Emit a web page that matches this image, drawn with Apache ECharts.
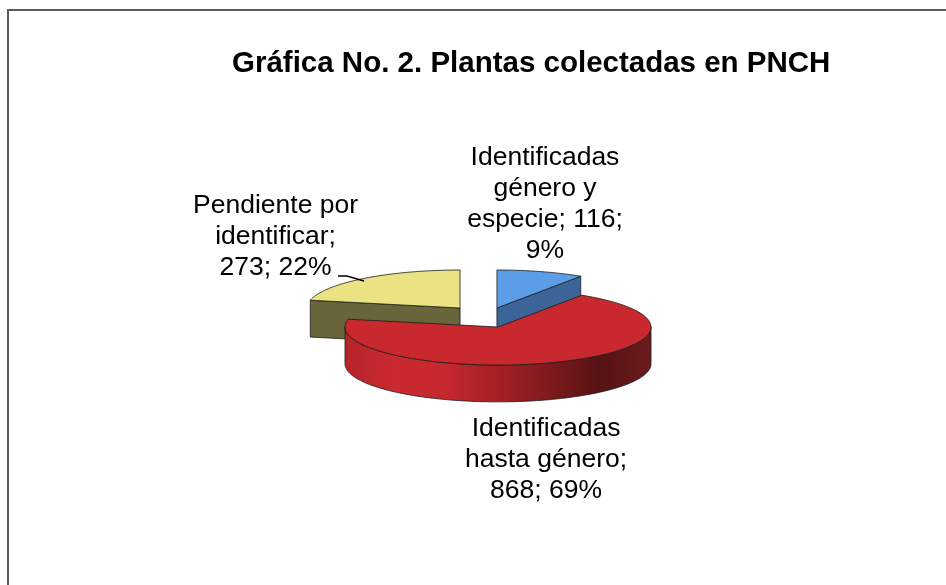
<!DOCTYPE html>
<html>
<head>
<meta charset="utf-8">
<script src="https://cdn.jsdelivr.net/npm/echarts@6/dist/echarts.min.js"></script>
<style>
  html, body { margin: 0; padding: 0; background: #fff; }
  #chart { width: 946px; height: 585px; }
</style>
</head>
<body>
<div id="chart"></div>
<script>
const categories = ['Identificadas género y especie', 'Identificadas hasta género', 'Pendiente por identificar'];
const counts = [116, 868, 273];

// look of the 3d pie (data units of the hidden axes: x 1 = rx, y 1 = ry)
const topColors = ['#5B9DE6', '#C9292E', '#EBE283'];
const sideColors = ['#3B6497', '#A52227', '#676539'];
const wallStops = [null, ['#B5252A', '#CA2A2F', '#C4282D', '#A52024', '#7E1A1C', '#571214', '#6B1C1D'], null];
const explode = [[0.078, 0.184], [0.085, -0.316], [-0.163, 0.184]];
const labelAt = [[0.392, 2.908], [0.399, -3.816], [-1.369, 2.066]];
const leader = [null, null, [[-0.961, 1.026], [-0.902, 1.026], [-0.791, 0.895]]];
const thick = 0.97;
const startAngle = 90;
const labelFont = '26.5px "Liberation Sans", Arial, sans-serif';
const labelWidth = 170;

const total = counts.reduce((a, b) => a + b, 0);
// clockwise from 12 o'clock, like excel
const ranges = [];
let cur = startAngle;
counts.forEach(v => {
  const lo = cur - 360 * v / total;
  ranges.push([lo, cur]);
  cur = lo;
});
// front slices drawn last
const drawOrder = counts.map((v, i) => i).sort((a, b) => explode[b][1] - explode[a][1]);

const rad = d => d * Math.PI / 180;

// greedy word wrap, only at spaces
const ctx = document.createElement('canvas').getContext('2d');
ctx.font = labelFont;
function wrap(text) {
  const lines = [];
  let line = '';
  text.split(' ').forEach(w => {
    const t = line ? line + ' ' + w : w;
    if (line && ctx.measureText(t).width > labelWidth) {
      lines.push(line);
      line = w;
    } else {
      line = t;
    }
  });
  lines.push(line);
  return lines.join('\n');
}

function renderItem(params, api) {
  const i = drawOrder[params.dataIndex];
  const lo = ranges[i][0], hi = ranges[i][1];
  const ox = explode[i][0], oy = explode[i][1];
  const pt = (deg, r, z) => api.coord([ox + r * Math.cos(rad(deg)), oy + r * Math.sin(rad(deg)) - z]);
  const arc = (a, b, z) => {
    const n = Math.max(2, Math.ceil(Math.abs(b - a)));
    const out = [];
    for (let k = 0; k <= n; k++) out.push(pt(a + (b - a) * k / n, 1, z));
    return out;
  };
  const edge = { stroke: '#1a1a1a', lineWidth: 0.8, lineJoin: 'round' };
  const children = [];
  const face = deg => ({
    type: 'polygon',
    shape: { points: [pt(deg, 0, 0), pt(deg, 1, 0), pt(deg, 1, thick), pt(deg, 0, thick)] },
    style: Object.assign({ fill: sideColors[i] }, edge)
  });
  if (Math.cos(rad(lo)) > 1e-6) children.push(face(lo));
  if (Math.cos(rad(hi)) < -1e-6) children.push(face(hi));
  for (let k = -2; k <= 1; k++) {
    const a = Math.max(lo, 180 + 360 * k), b = Math.min(hi, 360 + 360 * k);
    if (b > a) {
      const fill = wallStops[i] ? {
        type: 'linear', x: 0, y: 0, x2: 1, y2: 0,
        colorStops: wallStops[i].map((c, j, arr) => ({ offset: j / (arr.length - 1), color: c }))
      } : sideColors[i];
      children.push({
        type: 'polygon',
        shape: { points: arc(a, b, 0).concat(arc(b, a, thick)) },
        style: Object.assign({ fill: fill }, edge)
      });
    }
  }
  children.push({
    type: 'polygon',
    shape: { points: [pt(lo, 0, 0)].concat(arc(lo, hi, 0)) },
    style: Object.assign({ fill: topColors[i] }, edge)
  });
  if (leader[i]) {
    children.push({
      type: 'polyline',
      shape: { points: leader[i].map(p => api.coord(p)) },
      style: { stroke: '#000', lineWidth: 1.6, fill: null }
    });
  }
  const lp = api.coord(labelAt[i]);
  children.push({
    type: 'text',
    x: lp[0], y: lp[1],
    style: {
      text: wrap(categories[i] + '; ' + counts[i] + '; ' + Math.round(counts[i] / total * 100) + '%'),
      font: labelFont,
      lineHeight: 31,
      fill: '#000',
      align: 'center',
      verticalAlign: 'middle'
    }
  });
  return { type: 'group', children: children };
}

const chart = echarts.init(document.getElementById('chart'));
chart.setOption({
  animation: false,
  title: {
    text: 'Gráfica No. 2. Plantas colectadas en PNCH',
    left: 232,
    top: 49,
    padding: 0,
    textStyle: { fontFamily: 'Liberation Sans, Arial, sans-serif', fontSize: 29.5, fontWeight: 'bold', color: '#000' }
  },
  graphic: [{
    type: 'rect',
    shape: { x: 8, y: 10, width: 1000, height: 1000 },
    style: { fill: 'none', stroke: '#5a5a5a', lineWidth: 2 },
    silent: true
  }],
  grid: { left: 179, right: 155, top: 239, bottom: 194 },
  xAxis: { type: 'value', min: -2, max: 2, show: false },
  yAxis: { type: 'value', min: -2, max: 2, show: false },
  series: [{
    type: 'custom',
    coordinateSystem: 'cartesian2d',
    clip: false,
    renderItem: renderItem,
    data: drawOrder.map(i => [0, 0, i])
  }]
});
</script>
</body>
</html>
